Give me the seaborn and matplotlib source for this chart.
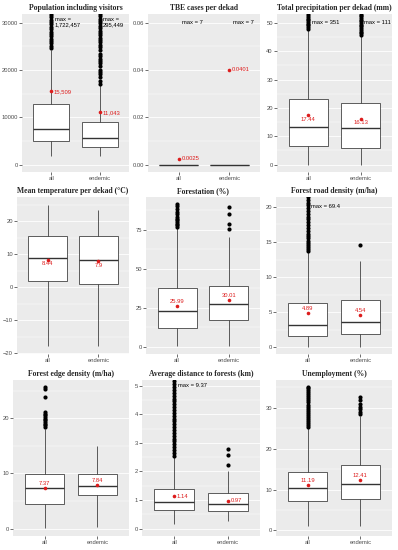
import numpy as np
import pandas as pd
import matplotlib
matplotlib.use('Agg')
import matplotlib.pyplot as plt
import seaborn as sns
from matplotlib.ticker import AutoMinorLocator, FormatStrFormatter

groups = ['all', 'endemic']

titles = ['Population including visitors', 'TBE cases per dekad',
          'Total precipitation per dekad (mm)', 'Mean temperature per dekad (°C)',
          'Forestation (%)', 'Forest road density (m/ha)',
          'Forest edge density (m/ha)', 'Average distance to forests (km)',
          'Unemployment (%)']

# lower whisker, q1, median, q3, upper whisker
box_all = [
    [1900, 5070, 7460, 12830, 24300],
    [0, 0, 0, 0, 0],
    [0, 6.6, 13.4, 23.0, 47.6],
    [-17.7, 2.0, 8.9, 15.7, 25.0],
    [0.3, 12.3, 23.2, 37.6, 76.0],
    [0, 1.55, 3.2, 6.26, 13.5],
    [0.2, 4.5, 7.3, 9.9, 18.1],
    [0.15, 0.64, 0.94, 1.39, 2.5],
    [1.05, 7.3, 10.4, 14.3, 25.0],
]
box_endemic = [
    [1800, 3740, 5700, 9030, 16900],
    [0, 0, 0, 0, 0],
    [0, 6.0, 13.0, 21.8, 45.4],
    [-17.7, 1.0, 8.2, 15.7, 23.5],
    [0.7, 17.5, 27.4, 39.0, 70.6],
    [0, 1.88, 3.63, 6.74, 12.3],
    [0.3, 6.15, 7.7, 9.85, 14.9],
    [0.26, 0.61, 0.85, 1.25, 2.0],
    [1.2, 7.8, 11.35, 16.1, 28.0],
]

means_all = [15509, 0.0025, 17.44, 8.44, 25.99, 4.89, 7.37, 1.14, 11.19]
means_endemic = [11043, 0.0401, 16.13, 7.9, 30.01, 4.54, 7.84, 0.97, 12.41]

max_all = ['max =\n1,722,457', 'max = 7', 'max = 351', None, None, 'max = 69.4', None, 'max = 9.37', None]
max_endemic = ['max =\n295,449', 'max = 7', 'max = 111', None, None, None, None, None, None]

outliers_all = [
    [24600, 25100, 25600, 26100, 26600, 27100, 27600, 28100, 28600, 29100, 29600,
     30100, 30600, 31100, 31600, 32100, 1722457],
    [1, 2, 3, 7],
    [47.9, 48.5, 49.1, 49.7, 50.3, 50.9, 51.5, 52.1, 52.7, 53.3, 351],
    [],
    [76.9, 77.9, 79.0, 80.0, 81.1, 82.2, 83.4, 84.9, 86.4, 88.0, 90.1, 91.2],
    [13.7, 14.0, 14.3, 14.6, 14.9, 15.2, 15.5, 15.8, 16.2, 16.6, 17.0, 17.4, 17.8,
     18.2, 18.6, 19.0, 19.4, 19.8, 20.2, 20.6, 21.0, 21.4, 69.4],
    [18.4, 18.7, 19.0, 19.3, 19.6, 19.9, 20.2, 20.5, 20.8, 21.1, 23.8, 25.2, 25.7],
    [2.55, 2.65, 2.75, 2.85, 2.95, 3.05, 3.15, 3.25, 3.35, 3.45, 3.55, 3.65, 3.75,
     3.85, 3.95, 4.05, 4.15, 4.25, 4.35, 4.45, 4.55, 4.65, 4.75, 4.85, 4.95, 5.05,
     5.15, 9.37],
    [25.3, 25.8, 26.3, 26.8, 27.3, 27.8, 28.3, 28.8, 29.3, 29.8, 30.3, 30.8, 31.3,
     31.8, 32.3, 32.8, 33.3, 33.8, 34.3, 34.8, 35.2],
]
outliers_endemic = [
    [17150, 17600, 18600, 19100, 19600, 20000, 20900, 21400, 21900, 22400, 22900,
     23400, 24300, 24800, 25300, 25800, 26300, 26800, 27300, 27800, 28300, 28800,
     29300, 29800, 30300, 30800, 31300, 31800, 295449],
    [1, 7],
    [45.7, 46.3, 46.9, 47.5, 48.1, 48.7, 49.3, 49.9, 50.5, 51.1, 51.7, 52.3, 52.9,
     53.5, 111],
    [],
    [75.2, 79.0, 85.3, 89.5],
    [14.6],
    [],
    [2.22, 2.57, 2.79],
    [28.4, 29.0, 29.6, 30.2, 31.0, 31.8, 32.6],
]

yticks = [
    [0, 10000, 20000, 30000],
    [0, 0.02, 0.04, 0.06],
    [0, 10, 20, 30, 40, 50],
    [-20, -10, 0, 10, 20],
    [0, 25, 50, 75],
    [0, 5, 10, 15, 20],
    [0, 10, 20],
    [0, 1, 2, 3, 4, 5],
    [0, 10, 20, 30],
]
ylims = [(-1500, 31800), (-0.0031, 0.0637), (-2.6, 53.1), (-20.2, 27.4),
         (-4.6, 96), (-0.95, 21.4), (-1.3, 26.9), (-0.26, 5.2), (-1.35, 36.8)]
label_side = ['right', 'right', 'below', 'below', 'above', 'above', 'above', 'right', 'above']

W, H = 398, 550
rows_px = [(14, 172), (197, 354), (380, 536)]
lefts_px = [[22, 148, 277], [17, 146, 276], [13, 142, 276]]
rights_px = [129, 260, 392]

red = '#DD1C1C'
line = '#333333'
fs = 4.2

sns.set_theme(style='darkgrid', rc={
    'axes.facecolor': '#EBEBEB',
    'grid.color': 'white',
    'grid.linewidth': 0.6,
    'axes.axisbelow': True,
})
plt.rcParams['font.family'] = ['Liberation Sans', 'DejaVu Sans']

fig = plt.figure(figsize=(W / 100, H / 100), dpi=100)

for i in range(9):
    r, c = divmod(i, 3)
    top, bot = rows_px[r]
    left, right = lefts_px[r][c], rights_px[c]
    ax = fig.add_axes([left / W, 1 - bot / H, (right - left) / W, (bot - top) / H])

    df = pd.DataFrame({'group': ['all'] * 5 + ['endemic'] * 5,
                       'value': box_all[i] + box_endemic[i]})
    sns.boxplot(data=df, x='group', y='value', order=groups, whis=(0, 100),
                width=0.75, color='white', linecolor=line, linewidth=0.55,
                showcaps=False, showfliers=False,
                medianprops={'linewidth': 1.0, 'color': line}, ax=ax)

    odf = pd.DataFrame({'group': ['all'] * len(outliers_all[i]) + ['endemic'] * len(outliers_endemic[i]),
                        'value': outliers_all[i] + outliers_endemic[i]})
    if len(odf):
        sns.stripplot(data=odf, x='group', y='value', order=groups, jitter=False,
                      color='black', size=3.0, linewidth=0, zorder=3, ax=ax)

    means = [means_all[i], means_endemic[i]]
    sns.stripplot(x=groups, y=means, order=groups, jitter=False, color=red,
                  size=2.6, linewidth=0, zorder=5, ax=ax)

    for j, m in enumerate(means):
        lab = f"{m:,}"
        if label_side[i] == 'right':
            ax.annotate(lab, (j, m), xytext=(2, 0), textcoords='offset points',
                        ha='left', va='center', fontsize=fs, color=red)
        elif label_side[i] == 'below':
            ax.annotate(lab, (j, m), xytext=(0, -1.0), textcoords='offset points',
                        ha='center', va='top', fontsize=fs, color=red)
        else:
            ax.annotate(lab, (j, m), xytext=(0, 1.5), textcoords='offset points',
                        ha='center', va='bottom', fontsize=fs, color=red)

    for j, note in enumerate([max_all[i], max_endemic[i]]):
        if note:
            ax.text(j + 0.07, yticks[i][-1], note, ha='left', va='center',
                    fontsize=fs, color='black', linespacing=1.1)

    ax.set_xlim(-0.6, 1.6)
    ax.set_ylim(*ylims[i])
    ax.set_yticks(yticks[i])
    if i == 1:
        ax.yaxis.set_major_formatter(FormatStrFormatter('%.2f'))
    ax.yaxis.set_minor_locator(AutoMinorLocator(2))
    ax.grid(which='minor', axis='y', color='white', linewidth=0.3)
    ax.set_xlabel('')
    ax.set_ylabel('')
    for s in ax.spines.values():
        s.set_visible(False)
    ax.tick_params(which='major', bottom=True, left=True, length=2, width=0.5,
                   color=line, labelsize=fs, labelcolor='#4D4D4D', pad=1)
    ax.tick_params(which='minor', length=0)
    ax.set_title(titles[i], fontsize=5.5, fontweight='bold',
                 family=['Liberation Serif', 'DejaVu Serif'], pad=3)

fig.savefig('out.png', dpi=100)
